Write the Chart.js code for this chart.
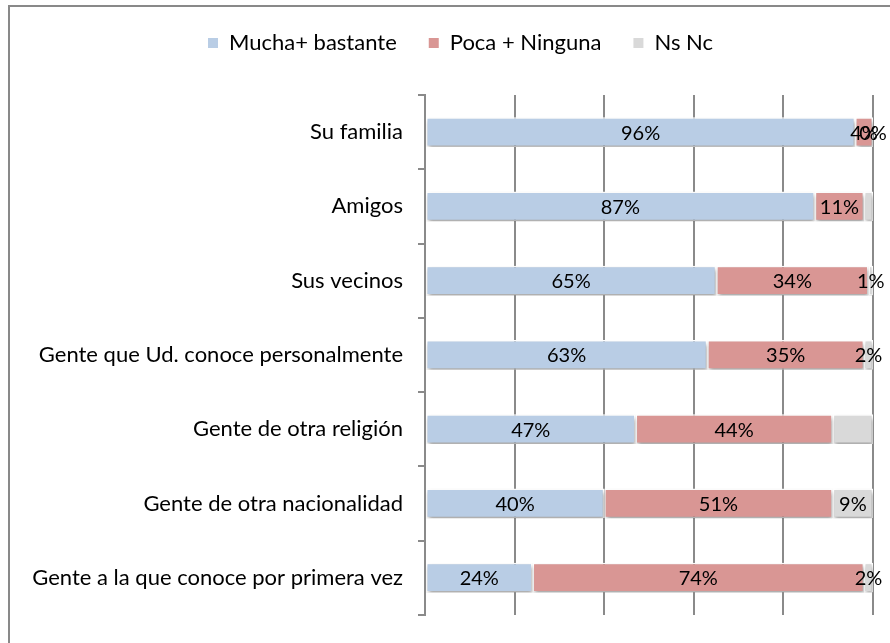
<!DOCTYPE html>
<html>
<head>
<meta charset="utf-8">
<script src="https://cdn.jsdelivr.net/npm/chart.js@4/dist/chart.umd.min.js"></script>
<style>
html,body{margin:0;padding:0;background:#fff;}
#wrap{width:890px;height:643px;position:relative;}
</style>
</head>
<body>
<div id="wrap"><canvas id="c" width="890" height="643"></canvas></div>
<script>
const categories = [
  "Su familia",
  "Amigos",
  "Sus vecinos",
  "Gente que Ud. conoce personalmente",
  "Gente de otra religión",
  "Gente de otra nacionalidad",
  "Gente a la que conoce por primera vez"
];
const seriesNames = ["Mucha+ bastante", "Poca + Ninguna", "Ns Nc"];
const muchaBastante = [96, 87, 65, 63, 47, 40, 24];
const pocaNinguna   = [4, 11, 34, 35, 44, 51, 74];
const nsNc          = [0, 2, 1, 2, 9, 9, 2];
const xTicks = [0, 20, 40, 60, 80, 100];
// labels not shown in the original: [datasetIndex, categoryIndex]
const hiddenLabels = [[2, 1], [2, 4]];

const FONT = "Lato, 'Liberation Sans', sans-serif";

const frame = {
  id: 'frame',
  beforeDraw(chart) {
    const ctx = chart.ctx;
    ctx.save();
    ctx.strokeStyle = '#898989';
    ctx.lineWidth = 2;
    ctx.beginPath();
    ctx.moveTo(9, chart.height);
    ctx.lineTo(9, 6);
    ctx.lineTo(chart.width, 6);
    ctx.stroke();
    ctx.restore();
  }
};

const legendShift = {
  id: 'legendShift',
  afterLayout(chart) {
    if (chart.legend) {
      chart.legend.left += 14;
      chart.legend.right += 14;
    }
  }
};

const shadow = {
  id: 'shadow',
  beforeDatasetsDraw(chart) {
    const ctx = chart.ctx;
    ctx.save();
    ctx.shadowColor = 'rgba(0,0,0,0.35)';
    ctx.shadowBlur = 4;
    ctx.shadowOffsetX = 1;
    ctx.shadowOffsetY = 3;
  },
  afterDatasetsDraw(chart) {
    chart.ctx.restore();
  }
};

const valueLabels = {
  id: 'valueLabels',
  afterDatasetsDraw(chart) {
    const ctx = chart.ctx;
    ctx.save();
    ctx.font = "20px " + FONT;
    ctx.fillStyle = '#000';
    ctx.textAlign = 'center';
    ctx.textBaseline = 'middle';
    chart.data.datasets.forEach((ds, di) => {
      const meta = chart.getDatasetMeta(di);
      meta.data.forEach((bar, i) => {
        if (hiddenLabels.some(h => h[0] === di && h[1] === i)) return;
        const v = ds.data[i];
        const p = bar.getProps(['x', 'y', 'base'], true);
        const cx = (p.x + p.base) / 2;
        ctx.fillText(v + '%', cx, p.y + 1);
      });
    });
    ctx.restore();
  }
};

new Chart(document.getElementById('c'), {
  type: 'bar',
  data: {
    labels: categories,
    datasets: [
      { label: seriesNames[0], data: muchaBastante, backgroundColor: '#B9CDE5' },
      { label: seriesNames[1], data: pocaNinguna, backgroundColor: '#D99694' },
      { label: seriesNames[2], data: nsNc, backgroundColor: '#D9D9D9' }
    ]
  },
  options: {
    indexAxis: 'y',
    responsive: false,
    animation: false,
    datasets: {
      bar: {
        borderColor: '#ffffff',
        borderWidth: 1.5,
        borderSkipped: false,
        barPercentage: 0.4,
        categoryPercentage: 1.0
      }
    },
    layout: { padding: { left: 20, right: 17, top: 0, bottom: 21 } },
    plugins: {
      legend: {
        position: 'top',
        labels: {
          font: { family: FONT, size: 22 },
          color: '#000',
          boxWidth: 10,
          boxHeight: 10,
          padding: 32,
          generateLabels(chart) {
            return chart.data.datasets.map((d, i) => ({
              text: d.label,
              fillStyle: d.backgroundColor,
              strokeStyle: d.backgroundColor,
              lineWidth: 0,
              datasetIndex: i
            }));
          }
        }
      },
      tooltip: { enabled: false }
    },
    scales: {
      x: {
        stacked: true,
        min: 0,
        max: 100,
        afterBuildTicks(scale) { scale.ticks = xTicks.map(v => ({ value: v })); },
        afterFit(scale) { scale.height = 0; },
        ticks: { display: false },
        border: { display: false },
        grid: { color: '#8a8a8a', lineWidth: 2, drawTicks: false }
      },
      gap: {
        type: 'linear',
        axis: 'x',
        position: 'top',
        display: true,
        afterFit(scale) { scale.height = 31; },
        ticks: { display: false },
        border: { display: false },
        grid: { display: false }
      },
      y: {
        stacked: true,
        afterFit(scale) { scale.width = 405; },
        ticks: {
          font: { family: FONT, size: 22 },
          color: '#000',
          padding: 15
        },
        border: { display: true, color: '#8a8a8a', width: 2 },
        grid: {
          offset: true,
          drawOnChartArea: false,
          drawTicks: true,
          tickLength: 7,
          color: '#8a8a8a',
          lineWidth: 2
        }
      }
    }
  },
  plugins: [frame, legendShift, shadow, valueLabels]
});
</script>
</body>
</html>
